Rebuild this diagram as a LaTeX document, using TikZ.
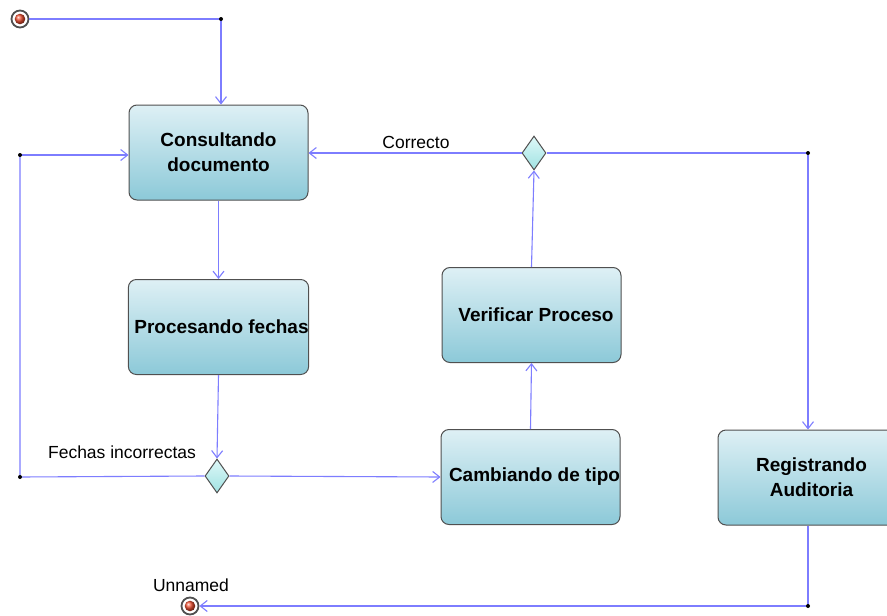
\documentclass[tikz,border=0pt]{standalone}
\usepackage{fontspec}
\setmainfont{Liberation Sans}
\usetikzlibrary{arrows.meta,shapes.geometric}
\definecolor{flujo}{RGB}{125,125,255}
\definecolor{borde}{RGB}{80,80,80}
\tikzset{
	estado/.style={draw=borde, line width=1pt, rounded corners=8pt, top color={rgb,255:red,222;green,240;blue,245}, bottom color={rgb,255:red,140;green,201;blue,216}, minimum width=179pt, minimum height=95pt, inner sep=0pt, align=center, font=\fontsize{19}{25}\selectfont\bfseries},
	decision/.style={diamond, draw=borde, line width=1pt, top color={rgb,255:red,222;green,248;blue,248}, bottom color={rgb,255:red,160;green,226;blue,226}, minimum width=24pt, minimum height=34pt, inner sep=0pt},
	flecha/.style={draw=flujo, line width=1.1pt, -{Straight Barb[length=7pt,width=11pt]}},
	linea/.style={draw=flujo, line width=1.1pt},
	etiqueta/.style={font=\fontsize{17.5}{20}\selectfont},
	extremo/.style={circle, draw=borde, line width=1.8pt, fill=white, minimum size=17pt, inner sep=0pt}
}
\begin{document}
\begin{tikzpicture}[x=1pt, y=-1pt]
	\clip (0,0) rectangle (887,616);
	\fill[white] (0,0) rectangle (887,616);
	% estados
	\node[estado] (consulta) at (218.5,152.5) {Consultando\\documento};
	\node[estado] (procesa) at (218.5,327) {\hspace*{6pt}Procesando fechas};
	\node[estado] (verifica) at (531.5,315) {\hspace*{9pt}Verificar Proceso};
	\node[estado] (cambia) at (530.5,477) {\hspace*{8pt}Cambiando de tipo};
	\node[estado] (registra) at (807.5,477.5) {\hspace*{8pt}Registrando\\\hspace*{8pt}Auditoria};
	\node[decision] (dec1) at (217,476) {};
	\node[decision] (dec2) at (534,153) {};
	\coordinate (j1) at (221,19);
	\coordinate (j2) at (20,155);
	\coordinate (j3) at (20,477);
	\coordinate (j4) at (808,153);
	\coordinate (j5) at (808,606);
	% inicio y fin
	\node[extremo] (inicio) at (20,19) {};
	\shade[ball color={rgb,255:red,240;green,80;blue,50}] (inicio) circle (5.3pt);
	\node[extremo] (fin) at (190,606) {};
	\shade[ball color={rgb,255:red,240;green,80;blue,50}] (fin) circle (5.3pt);
	\node[etiqueta] (unnamed) at (191,585) {Unnamed};
	% transiciones
	\draw[linea] (inicio) -- (j1);
	\draw[flecha] (j1) -- (j1 |- consulta.north);
	\draw[flecha] (consulta.south) -- (procesa.north);
	\draw[flecha] (procesa.south) -- (dec1.north);
	\draw[flecha] (dec1.east) -- (cambia.west);
	\draw[linea] (dec1.west) -- (j3) -- (j2);
	\draw[flecha] (j2) -- (consulta.west |- j2);
	\node[etiqueta] (incorrectas) at (122,452) {Fechas incorrectas};
	\draw[flecha] (cambia.north) -- (verifica.south);
	\draw[flecha] (verifica.north) -- (dec2.south);
	\draw[flecha] (dec2.west) -- (consulta.east |- dec2.west);
	\node[etiqueta] (correcto) at (416,142) {Correcto};
	\draw[linea] (dec2.east) -- (j4);
	\draw[flecha] (j4) -- (j4 |- registra.north);
	\draw[linea] (registra.south -| j5) -- (j5);
	\draw[flecha] (j5) -- (fin);
	\foreach \j in {j1,j2,j3,j4,j5} \fill (\j) circle (2pt);
\end{tikzpicture}
\end{document}
